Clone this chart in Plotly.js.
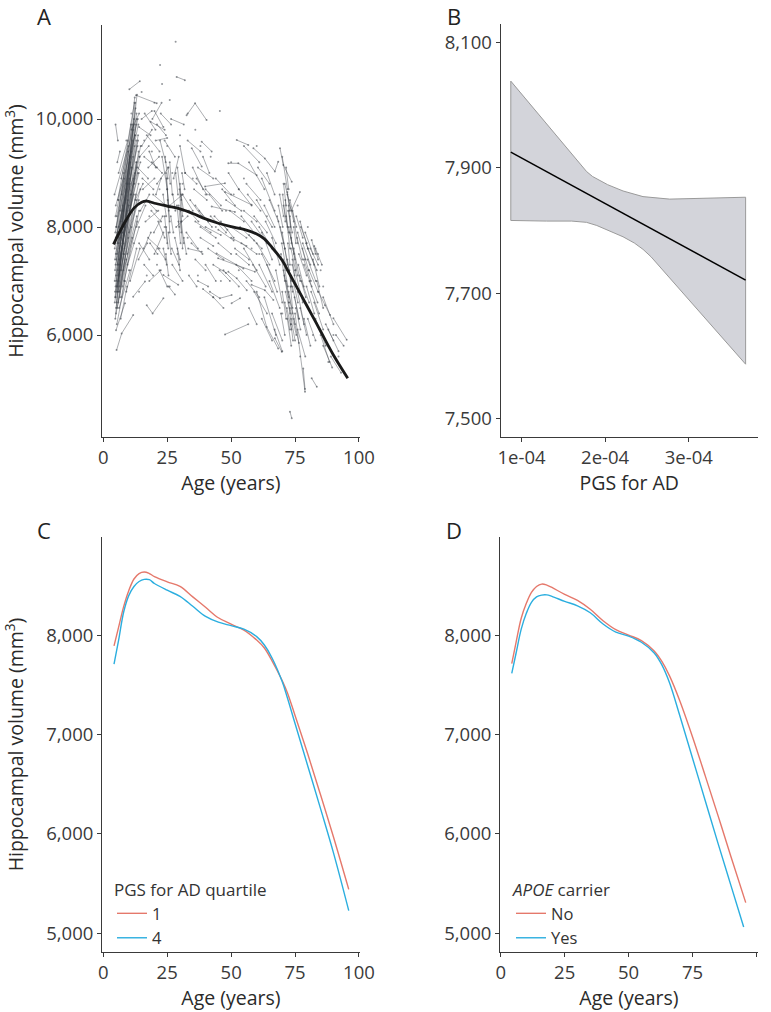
<!DOCTYPE html>
<html><head><meta charset="utf-8">
<script src="https://cdn.plot.ly/plotly-3.0.1.min.js"></script>
<style>html,body{margin:0;padding:0;background:#fff}#chart{width:771px;height:1012px}</style>
</head><body><div id="chart"></div>
<script>
// ---------- Panel A: individual trajectories (flat: age, volume, age, volume, ...) ----------
const subjectVisits = [
 // children, steep growth bundle
 [4.6,6700,12.5,10300],[4.8,6900,13.2,10450],[5.0,7100,12.0,10000],[5.2,6600,11.5,9600],
 [5.5,7300,12.8,9900],[4.5,7600,11.0,9400],[5.8,6800,13.0,9200],[6.0,7000,12.2,9500],
 [4.7,7900,10.5,9300],[5.3,8200,11.8,9800],[6.2,7400,13.5,9000],[5.0,6500,10.8,8600],
 [4.9,8400,12.5,9700],[6.5,6700,12.0,8800],[5.6,7700,13.0,10100],[4.4,8600,9.8,9500],
 [7.0,7200,13.8,9400],[6.8,7800,12.6,10200],[7.5,6900,13.0,8500],[5.1,7000,9.5,8200],
 [5.4,7500,10.2,8900],[6.1,8000,11.6,9300],[6.6,8300,12.4,9700],[7.2,8600,13.5,10000],
 [4.8,7300,8.8,8100],[5.9,6600,9.8,7800],[6.4,6900,11.0,8000],[5.7,7200,10.0,8400],
 [7.8,7500,13.8,8800],[8.2,7000,14.0,8300],[7.4,7700,12.0,8600],[4.6,6800,8.2,7500],
 [5.0,6400,9.0,7400],[5.3,6200,8.5,7000],[6.2,6500,10.5,7200],[5.5,7900,9.5,8800],
 [8.0,8000,13.0,9100],[8.5,8500,13.6,9600],[7.0,8900,12.0,9900],[6.0,9000,9.5,9600],
 [4.9,7800,7.8,8300],[5.2,5720,7.2,6030,11.7,6370],[5.0,6090,8.5,6590],[4.7,6300,6.4,7200],
 [9.0,6800,13.0,7600],[9.5,7300,14.0,8000],[10.0,7900,14.5,8700],[4.8,9900,5.7,9600],
 [5.5,9200,6.5,9400],[11.0,9800,14.0,10100],[12.0,8800,14.5,9200],[4.5,7000,7.5,7900],
 [5.6,6900,11.2,9100],[6.3,7600,12.9,9600],[4.9,7500,9.0,8700],[5.2,8000,10.8,9900],
 [4.5,6600,9.2,8300],[4.6,7200,10.6,9200],[4.7,7700,11.4,9900],[4.8,8200,9.7,9400],[4.9,6700,13.6,9700],
 [5.1,7400,12.3,10400],[5.3,6900,10.4,8800],[5.5,6500,11.8,8900],[5.7,8500,12.2,10300],[5.9,7100,9.6,8500],
 [6.1,7700,13.1,10000],[6.3,6800,12.7,8600],[6.6,7300,10.9,9100],[6.9,8100,13.4,9500],[7.1,6700,11.3,7800],
 [7.3,7900,12.9,9200],[7.6,8300,12.3,9000],[7.9,7200,13.3,8100],[8.3,7600,13.9,8500],[8.6,8100,14.2,9300],
 [9.1,8800,13.7,9900],[9.4,7500,13.1,8200],[10.2,8300,13.9,9000],[10.5,7000,14.3,7600],[10.8,8600,14.6,9500],
 [4.6,7400,7.6,8400],[5.0,8000,8.1,8900],[5.4,6800,7.9,7700],[6.0,7300,8.6,8000],[6.8,6300,9.3,6900],
 // adolescents and young adults
 [12.8,10440,20.9,10290],[10.2,10550,14.3,10700],[14.0,9850,18.5,9700],[15.0,9500,19.0,9800],
 [16.0,9300,21.0,9100],[13.5,9100,17.5,8900],[17.0,9700,22.0,9400],[18.5,9950,24.0,9800],
 [20.0,10150,23.5,9850],[22.5,10100,26.5,9900],[24.0,9600,28.0,9300],[19.0,9200,23.0,9000],
 [15.5,8700,20.0,8900],[14.5,8300,18.0,8600],[16.5,8100,21.5,8300],[19.5,8600,24.5,8400],
 [21.0,8800,25.5,9100],[23.0,9300,25.0,8700],[24.5,9000,25.5,8400],[25.0,8700,26.0,8100],
 [24.0,8200,25.0,7700],[25.5,7900,26.5,7500],[23.5,7600,24.8,7300],[26.0,9200,27.0,8600],
 [27.5,8900,29.5,9300],[29.0,9100,30.5,8500],[30.0,8800,31.0,8200],[29.5,8400,30.5,7900],
 [30.5,8100,31.5,7700],[28.0,7800,30.0,7400],[31.0,8600,35.0,8300],[32.0,9000,36.5,8800],
 [33.0,9600,38.0,9400],[26.5,10000,31.5,9900],[32.6,10070,35.9,10290,40.4,9980],[28.7,10780,31.9,10720],
 [17.5,7800,22.0,7600],[14.0,7700,18.0,7400],[16.0,7300,19.5,7100],[18.0,7000,22.5,7200],
 [20.0,7500,23.5,7900],[21.5,8100,24.0,7800],[22.0,7200,25.0,6900],[17.0,6550,19.3,6400,23.5,6680],
 [11.7,6710,16.3,6990],[23.5,7110,29.3,6930],[27.0,7300,31.0,7000],[25.5,6900,28.0,6750],
 [13.0,8000,16.5,8400],[12.5,8500,15.5,8800],[18.0,9400,20.5,9100],[20.5,9600,25.0,9650],
 [26.0,8400,31.0,8600],[28.5,8000,33.0,8200],[32.5,7900,37.0,7600],[34.0,8500,38.5,8200],
 [35.0,9100,39.0,8700],[36.0,7400,40.0,7200],[33.5,7100,36.5,6900],[15.0,10000,19.0,10150],
 [21.0,9900,24.5,9700],[24.5,7500,25.5,7100],[29.0,7600,30.0,7200],[30.0,9500,32.0,9000],
 [24.8,8900,25.6,8300],[25.2,8500,26.0,7900],[29.8,8700,30.6,8100],[30.2,8300,31.0,7600],
 [14.2,9300,17.8,9500],[15.3,8900,19.6,8700],[16.8,8500,20.8,8300],[17.6,9100,21.8,9300],[18.8,8300,22.6,8100],
 [19.8,7900,23.2,8200],[20.6,8600,22.6,8900],[22.2,9600,24.4,9200],[23.4,8600,24.6,8200],[24.2,9300,25.2,8900],
 [24.6,8000,25.4,7600],[25.3,9100,26.2,8800],[26.4,8200,27.4,7900],[27.2,8600,28.2,8300],[28.3,9000,29.2,8600],
 [28.8,8400,29.7,8000],[29.4,8100,30.2,7700],[30.4,8600,31.4,8300],[30.8,9000,31.8,8700],[31.5,7800,32.5,7500],
 [13.8,7400,17.2,7700],[15.8,7600,18.6,7900],[18.3,7700,21.2,7500],[21.4,7600,24.3,7400],[26.8,7600,29.6,7300],
 [33.5,8300,37.2,8100],[34.5,7700,38.8,7500],[36.5,8900,40.5,8600],[16.2,10100,20.4,9800],[19.2,10000,22.8,10300],
 // middle-aged adults
 [52.2,9610,56.7,9520],[38.5,9580,42.4,9400],[34.6,9460,38.5,9120],
 [58.7,9460,63.2,9270,67.1,9030,68.4,9210],[48.9,9180,52.8,9180,60.0,8960],
 [39.8,8750,47.6,8810],[47.6,8650,58.0,8410],[42.4,8380,51.5,8280],
 [33.2,7600,38.5,7540],[44.3,7510,54.8,7230],[44.9,7420,59.3,7170],
 [41.7,6800,45.6,6680,50.2,6740],[50.2,6590,53.5,6680],[48.9,7170,52.2,7050,56.1,6830],
 [58.0,6930,63.2,6830,66.5,6650],[60.0,6800,63.9,6150,68.4,5750],[47.6,6010,56.7,6200],
 [37.0,9100,43.0,8900],[40.0,8700,46.0,8400],[42.0,8200,48.0,7900],[44.0,8900,50.0,8600],
 [55.0,9500,61.0,9200],[57.0,9200,63.0,8700],[48.0,8500,54.0,8300],[50.0,8000,56.0,7800],
 [53.0,8700,58.0,8400],[38.0,8000,44.0,7800],[41.0,7600,47.0,7400],[45.0,7700,50.0,7500],
 [47.0,7200,53.0,6900],[52.0,7300,58.0,7000],[55.0,7600,60.0,7200],[58.0,8100,64.0,7700],
 [60.0,8500,66.0,8000],[62.0,8900,67.0,8300],[59.0,6800,64.0,6400],[61.0,7300,66.0,6800],
 [63.0,6700,67.5,6000],[57.0,6500,60.0,6200],[43.0,6700,47.0,6500],[39.0,6850,43.0,6700],
 [36.0,8400,41.0,8100],[39.0,9300,41.5,9000],[49.0,9000,53.0,8700],[56.0,8800,61.5,8500],
 [64.0,9000,67.0,8600],[62.0,7900,66.0,7400],[54.0,8200,59.0,7900],[40.0,7300,44.0,7000],
 [46.0,8100,51.0,7800],[36.0,8100,42.0,7900],[40.0,8000,46.0,7850],[45.0,7950,51.0,7750],
 [50.0,7800,56.0,7650],[54.0,7700,60.0,7500],[57.0,7850,62.0,7600],[60.0,7700,65.0,7300],
 [62.0,7500,67.0,7000],[64.0,7300,68.0,6800],[38.0,7800,43.0,7650],[43.0,7300,48.0,7150],
 [52.0,7500,57.0,7300],[55.0,8300,60.0,8100],[59.0,8200,64.0,7900],[61.0,8000,66.0,7600],
 [63.0,8400,67.0,8000],[56.0,7000,61.0,6700],[65.0,7000,69.0,6500],[66.0,6400,70.0,5900],
 [62.0,6300,66.0,5900],[67.0,6100,70.0,5700],
 [35.5,8700,40.5,8500],[37.5,8300,42.5,8000],[41.5,8600,46.5,8300],[43.5,8200,48.5,7950],[46.5,8700,51.5,8400],
 [49.5,8300,55.0,8100],[51.5,7600,57.0,7400],[53.5,8000,59.0,7750],[56.5,8600,61.5,8300],[58.5,7300,63.5,6900],
 [60.5,9100,65.0,8800],[63.5,8100,67.5,7700],[65.0,8500,68.5,8100],[37.0,7000,41.0,6900],[45.5,7200,49.5,7000],
 // older adults
 [69.1,9460,70.4,9150,73.7,8840],[70.0,9300,72.0,8700],[71.0,8800,73.5,8300,76.9,8650],
 [72.0,8600,74.5,8100],[70.5,8400,72.5,7900],[73.0,8500,75.5,8000],[71.5,8200,73.0,7600],
 [72.5,8000,75.0,7400],[74.0,8300,76.0,7700],[70.0,7900,72.0,7300],[71.0,7600,73.5,7000],
 [72.0,7400,74.0,6800],[73.5,7800,76.0,7100],[74.5,7600,77.0,7000],[70.5,7200,72.5,6700],
 [71.5,7000,74.0,6400],[72.5,6800,75.0,6200],[73.0,6500,75.5,6000],[74.0,6900,76.5,6300],
 [75.0,7200,78.0,6600],[69.5,7500,71.0,7000],[70.0,6800,71.5,6300],[71.0,6600,73.0,6100],
 [73.5,6300,75.0,5900],[75.5,8200,78.0,7800],[76.0,7900,79.0,7400],[77.0,8100,80.0,7600],
 [78.0,7700,81.0,7300],[79.0,7900,82.0,7500],[80.0,7600,83.5,7200],[76.5,7500,79.5,7100],
 [78.5,7300,81.5,6900],[80.5,7200,84.0,6800],[77.5,7000,80.5,6600],[79.5,6900,82.5,6400],
 [81.0,7600,84.0,7300],[82.0,7400,84.5,6900],[76.0,6800,78.5,6200],[77.0,6500,79.5,6000],
 [78.5,6300,81.0,5800],[75.0,6400,78.9,4950],[81.5,5200,83.5,5040],[73.0,4580,73.7,4460],
 [84.1,6800,86.7,6550,88.7,6370],[90.0,6310,95.2,5910],[67.1,5940,69.8,5690],
 [82.5,6600,86.0,6100],[83.0,6300,87.0,5800],[85.0,6000,88.5,5500],[86.0,5800,89.5,5400],
 [87.0,6200,90.0,5900],[83.5,7000,86.0,6500],[80.0,6300,83.0,5900],[68.0,8200,70.5,7700],
 [66.0,7800,69.0,7300],[67.5,7200,70.0,6600],[69.0,8600,70.5,8200],[70.5,8800,71.5,8400],
 [71.5,9100,72.5,8700],[72.0,8650,72.8,8300],[72.5,8400,73.2,8000],[73.0,8200,73.6,7700],
 [72.2,7700,73.0,7300],[72.8,7200,73.4,6900],[73.2,6900,74.0,6500],[72.6,6600,73.4,6200],
 [73.4,6200,74.2,5900],[74.0,7400,74.8,7100],[74.5,8000,75.3,7700],[86.0,6700,90.0,6200],
 [88.0,6100,92.0,5700],[91.0,6000,94.0,5800],[89.0,5600,93.0,5300],[81.5,7760,83.0,7500],
 [82.5,7650,84.0,7400],[78.2,5380,78.9,5000],[76.0,6100,79.0,5600],
 [68.5,8400,70.2,8000],[69.2,8000,71.0,7600],[69.8,7700,71.6,7200],[70.3,7400,72.2,6900],[70.8,7100,72.6,6600],
 [71.3,6800,73.1,6400],[71.8,6500,73.6,6100],[72.3,8300,73.9,7900],[72.9,7900,74.6,7500],[73.4,7600,75.2,7200],
 [73.9,7300,75.6,6900],[74.3,7000,76.1,6600],[74.8,6700,76.6,6300],[75.3,6500,77.1,6100],[75.8,7800,77.8,7400],
 [76.3,7300,78.4,6900],[76.8,7100,79.2,6700],[77.3,8000,79.6,7700],[77.9,7600,80.3,7200],[78.4,7400,81.2,7000],
 [79.3,7700,82.4,7300],[79.9,7400,83.1,7000],[80.6,7000,83.8,6600],[81.3,6800,84.4,6400],[70.2,8600,71.2,8100],
 [71.2,8500,72.0,8000],[69.5,6400,71.0,6000],[72.0,6300,73.5,5800],[74.5,6300,76.5,5850],[83.0,7600,85.5,7300]
];
const singleVisitAge = [28.3,22.2,23,15,20,26,33,45.6,36,30,25,19,16,38,42,27,35,22,31,40,18,24,33,29,21,37,26,44,48,51,55,58,53,46,61,64,50,60,12,10,8,9,11,6,14,17,88,90,84,86,82,92,77,76,80,70,85];
const singleVisitVol = [11430,11000,10650,10500,10300,10350,10100,10150,9800,9700,9500,9400,9600,9500,9300,9000,8900,8700,8800,8600,8200,8000,7800,7500,7300,7100,6900,8000,8300,8600,8900,7600,7200,7000,7500,8200,9200,9500,7700,7200,9000,9600,10100,8500,6800,7100,5500,6000,7500,6900,6000,5600,5600,8400,8000,6400,7200];

// Panel A: mean trajectory
const meanAge = [4,8,12,15,17,20,25,30,35,40,45,50,55,60,63,66,70,73,76,80,85,90,95.6];
const meanVol = [7680,8050,8350,8460,8478,8440,8387,8335,8250,8150,8070,8005,7955,7870,7780,7620,7380,7120,6860,6510,6070,5630,5200];

// ---------- Panel B: PGS for AD ----------
const pgsUpperX = [0.872e-4,1.3e-4,1.778e-4,1.85e-4,1.93e-4,2.03e-4,2.214e-4,2.453e-4,2.772e-4,3.2e-4,3.68e-4];
const pgsUpper  = [8038,7970,7894,7886,7880,7873,7863,7854,7850,7851,7853];
const pgsLowerX = [0.872e-4,1.3e-4,1.6e-4,1.777e-4,1.9e-4,1.975e-4,2.1e-4,2.214e-4,2.35e-4,2.453e-4,2.55e-4,2.65e-4,2.772e-4,3.0e-4,3.3e-4,3.68e-4];
const pgsLower  = [7816,7815,7815,7813,7808,7804,7797,7790,7780,7770,7758,7743,7725,7690,7645,7587];
const pgsFitX = [0.872e-4,3.68e-4];
const pgsFitY = [7925,7721];

// ---------- Panel C: PGS quartiles ----------
const ageC = [4.2,6,8,10,12,14,16,18,20,25,30,35,40,45,50,55,60,63,66,70,72,75,80,85,90,96];
const q1Vol = [7892,8080,8290,8450,8565,8620,8635,8620,8590,8537,8490,8385,8280,8175,8110,8050,7950,7870,7740,7540,7420,7190,6800,6390,5970,5440];
const q4Vol = [7708,7950,8235,8400,8490,8540,8561,8558,8520,8452,8390,8290,8188,8130,8095,8060,7985,7900,7770,7530,7370,7110,6680,6250,5810,5226];

// ---------- Panel D: APOE carrier ----------
const ageDNo  = [4.3,6,8,10,12,14,16,18,20,25,30,35,40,45,50,55,60,63,66,70,75,80,85,90,95.8];
const noVol   = [7714,7930,8170,8320,8430,8490,8514,8504,8480,8410,8350,8260,8145,8055,8000,7945,7840,7735,7590,7340,6975,6580,6180,5770,5306];
const ageDYes = [4.3,6,8,10,12,14,16,18,20,25,30,35,40,45,50,55,60,63,66,70,75,80,85,90,95];
const yesVol  = [7614,7820,8060,8220,8330,8385,8403,8405,8390,8340,8295,8225,8112,8030,7990,7928,7820,7700,7520,7190,6760,6330,5900,5480,5061];

// ---------- tick labels ----------
const ageTicks = [0,25,50,75,100];
const ageTickText = ['0','25','50','75','100'];
const volTicksA = [6000,8000,10000];
const volTickTextA = ['6,000','8,000','10,000'];
const volTicksB = [7500,7700,7900,8100];
const volTickTextB = ['7,500','7,700','7,900','8,100'];
const pgsTicks = [1e-4,2e-4,3e-4];
const pgsTickText = ['1e-04','2e-04','3e-04'];
const volTicksCD = [5000,6000,7000,8000];
const volTickTextCD = ['5,000','6,000','7,000','8,000'];

// ---------- build ----------
const sx = [], sy = [];
subjectVisits.forEach(t => { for (let i = 0; i < t.length; i += 2) { sx.push(t[i]); sy.push(t[i+1]); } sx.push(null); sy.push(null); });

const RED = '#E5786B', BLUE = '#2BAEDF';
const FONT = '"Open Sans", "DejaVu Sans", sans-serif';
const GREYLINE = '#9a9a9a';

const traces = [
  {x: sx, y: sy, xaxis: 'x', yaxis: 'y', type: 'scatter', mode: 'lines+markers',
   line: {color: 'rgba(60,65,72,0.48)', width: 0.9}, marker: {size: 2, color: 'rgba(60,65,72,0.55)'},
   showlegend: false, hoverinfo: 'skip'},
  {x: singleVisitAge, y: singleVisitVol, xaxis: 'x', yaxis: 'y', type: 'scatter', mode: 'markers',
   marker: {size: 2, color: 'rgba(60,65,72,0.55)'}, showlegend: false, hoverinfo: 'skip'},
  {x: meanAge, y: meanVol, xaxis: 'x', yaxis: 'y', type: 'scatter', mode: 'lines',
   line: {color: '#1a1a1a', width: 2.8, shape: 'spline', smoothing: 1}, showlegend: false},
  // panel B: confidence band as closed polygon
  {x: pgsUpperX.concat(pgsLowerX.slice().reverse(), [pgsUpperX[0]]),
   y: pgsUpper.concat(pgsLower.slice().reverse(), [pgsUpper[0]]),
   xaxis: 'x2', yaxis: 'y2', type: 'scatter', mode: 'lines', fill: 'toself', fillcolor: '#D3D4DA',
   line: {color: GREYLINE, width: 1}, showlegend: false, hoverinfo: 'skip'},
  {x: pgsFitX, y: pgsFitY, xaxis: 'x2', yaxis: 'y2', type: 'scatter', mode: 'lines',
   line: {color: '#000', width: 1.5}, showlegend: false},
  // panel C
  {x: ageC, y: q1Vol, xaxis: 'x3', yaxis: 'y3', type: 'scatter', mode: 'lines', name: '1',
   line: {color: RED, width: 1.4, shape: 'spline', smoothing: 1}, legend: 'legend'},
  {x: ageC, y: q4Vol, xaxis: 'x3', yaxis: 'y3', type: 'scatter', mode: 'lines', name: '4',
   line: {color: BLUE, width: 1.4, shape: 'spline', smoothing: 1}, legend: 'legend'},
  // panel D
  {x: ageDNo, y: noVol, xaxis: 'x4', yaxis: 'y4', type: 'scatter', mode: 'lines', name: 'No',
   line: {color: RED, width: 1.4, shape: 'spline', smoothing: 1}, legend: 'legend2'},
  {x: ageDYes, y: yesVol, xaxis: 'x4', yaxis: 'y4', type: 'scatter', mode: 'lines', name: 'Yes',
   line: {color: BLUE, width: 1.4, shape: 'spline', smoothing: 1}, legend: 'legend2'}
];

const W = 771, H = 1012;
const px = v => v / W, py = v => 1 - v / H;
const axisBase = {showline: true, linecolor: '#3a3a3a', linewidth: 1, ticks: 'outside', ticklen: 4,
  tickwidth: 1, tickcolor: '#3a3a3a', showgrid: false, zeroline: false, tickmode: 'array',
  tickfont: {family: FONT, size: 18.5, color: '#3a3a3a'}, fixedrange: true};
const titleFont = {family: FONT, size: 19.5, color: '#2a2a2a'};
const ageTitle = {text: 'Age (years)', font: titleFont, standoff: 6};
const legendFont = {family: FONT, size: 16.5, color: '#333'};
const letterFont = {family: FONT, size: 22, color: '#222'};

const layout = {
  width: W, height: H, margin: {l: 0, r: 0, t: 0, b: 0}, paper_bgcolor: '#fff', plot_bgcolor: '#fff',
  font: {family: FONT, color: '#333'}, showlegend: true,
  xaxis:  Object.assign({}, axisBase, {domain: [px(102), px(360)], anchor: 'y', range: [-0.5, 100.4], tickvals: ageTicks, ticktext: ageTickText, title: ageTitle}),
  yaxis:  Object.assign({}, axisBase, {domain: [py(437), py(25)], anchor: 'x', range: [4111, 11741], tickvals: volTicksA, ticktext: volTickTextA,
    title: {text: 'Hippocampal volume (mm<sup>3</sup>)', font: titleFont, standoff: 14}}),
  xaxis2: Object.assign({}, axisBase, {domain: [px(500.5), px(758)], anchor: 'y2', range: [0.749e-4, 3.828e-4], tickvals: pgsTicks, ticktext: pgsTickText, title: {text: 'PGS for AD', font: titleFont, standoff: 6}}),
  yaxis2: Object.assign({}, axisBase, {domain: [py(437), py(24)], anchor: 'x2', range: [7471, 8129], tickvals: volTicksB, ticktext: volTickTextB}),
  xaxis3: Object.assign({}, axisBase, {domain: [px(102), px(360)], anchor: 'y3', range: [-0.5, 100.4], tickvals: ageTicks, ticktext: ageTickText, title: ageTitle}),
  yaxis3: Object.assign({}, axisBase, {domain: [py(952), py(537)], anchor: 'x3', range: [4809, 8988], tickvals: volTicksCD, ticktext: volTickTextCD,
    title: {text: 'Hippocampal volume (mm<sup>3</sup>)', font: titleFont, standoff: 25}}),
  xaxis4: Object.assign({}, axisBase, {domain: [px(500), px(758)], anchor: 'y4', range: [-0.3, 100.6], tickvals: ageTicks, ticktext: ageTickText, title: ageTitle}),
  yaxis4: Object.assign({}, axisBase, {domain: [py(952), py(537)], anchor: 'x4', range: [4809, 8988], tickvals: volTicksCD, ticktext: volTickTextCD}),
  legend: {x: px(112), y: py(874), xanchor: 'left', yanchor: 'top', bgcolor: 'rgba(0,0,0,0)', traceorder: 'normal',
    title: {text: 'PGS for AD quartile', font: {family: FONT, size: 17, color: '#333'}},
    font: legendFont, tracegroupgap: 0},
  legend2: {x: px(511), y: py(874), xanchor: 'left', yanchor: 'top', bgcolor: 'rgba(0,0,0,0)', traceorder: 'normal',
    title: {text: '<i>APOE</i> carrier', font: {family: FONT, size: 17, color: '#333'}},
    font: legendFont, tracegroupgap: 0},
  annotations: [
    {text: 'A', x: px(44), y: py(16), xref: 'paper', yref: 'paper', xanchor: 'center', yanchor: 'middle', showarrow: false, font: letterFont},
    {text: 'B', x: px(454), y: py(16), xref: 'paper', yref: 'paper', xanchor: 'center', yanchor: 'middle', showarrow: false, font: letterFont},
    {text: 'C', x: px(44), y: py(530), xref: 'paper', yref: 'paper', xanchor: 'center', yanchor: 'middle', showarrow: false, font: letterFont},
    {text: 'D', x: px(454), y: py(530), xref: 'paper', yref: 'paper', xanchor: 'center', yanchor: 'middle', showarrow: false, font: letterFont}
  ]
};

Plotly.newPlot('chart', traces, layout, {displayModeBar: false, staticPlot: true});
</script></body></html>
